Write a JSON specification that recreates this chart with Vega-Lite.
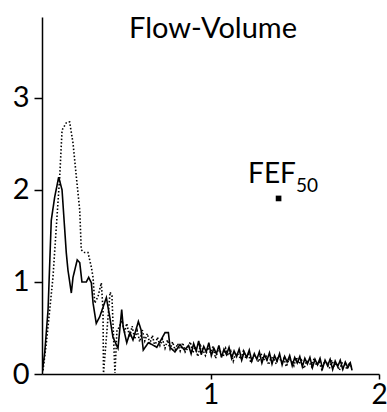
{
  "$schema": "https://vega.github.io/schema/vega-lite/v6.json",
  "width": 337,
  "height": 357,
  "autosize": {"type": "none"},
  "padding": {"left": 42, "top": 17, "right": 8, "bottom": 38},
  "background": "white",
  "config": {
    "view": {"stroke": null},
    "font": "Lato",
    "axis": {"grid": false, "domainColor": "black", "tickColor": "black", "labelColor": "black", "labelFont": "Lato", "domainWidth": 1.5, "tickWidth": 1.5}
  },
  "datasets": {
    "curves": [
      {"s": "solid", "x": 0.0, "y": 0.0},
      {"s": "solid", "x": 0.016, "y": 0.23},
      {"s": "solid", "x": 0.036, "y": 0.70},
      {"s": "solid", "x": 0.055, "y": 1.67},
      {"s": "solid", "x": 0.075, "y": 1.92},
      {"s": "solid", "x": 0.099, "y": 2.14},
      {"s": "solid", "x": 0.119, "y": 2.0},
      {"s": "solid", "x": 0.144, "y": 1.32},
      {"s": "solid", "x": 0.154, "y": 1.13},
      {"s": "solid", "x": 0.174, "y": 0.88},
      {"s": "solid", "x": 0.184, "y": 1.05},
      {"s": "solid", "x": 0.209, "y": 1.24},
      {"s": "solid", "x": 0.224, "y": 1.21},
      {"s": "solid", "x": 0.237, "y": 1.0},
      {"s": "solid", "x": 0.263, "y": 1.0},
      {"s": "solid", "x": 0.277, "y": 1.05},
      {"s": "solid", "x": 0.293, "y": 0.99},
      {"s": "solid", "x": 0.303, "y": 0.77},
      {"s": "solid", "x": 0.322, "y": 0.55},
      {"s": "solid", "x": 0.342, "y": 0.62},
      {"s": "solid", "x": 0.382, "y": 0.83},
      {"s": "solid", "x": 0.402, "y": 0.62},
      {"s": "solid", "x": 0.421, "y": 0.40},
      {"s": "solid", "x": 0.451, "y": 0.28},
      {"s": "solid", "x": 0.473, "y": 0.70},
      {"s": "solid", "x": 0.482, "y": 0.51},
      {"s": "solid", "x": 0.503, "y": 0.34},
      {"s": "solid", "x": 0.522, "y": 0.45},
      {"s": "solid", "x": 0.54, "y": 0.37},
      {"s": "solid", "x": 0.572, "y": 0.57},
      {"s": "solid", "x": 0.588, "y": 0.48},
      {"s": "solid", "x": 0.601, "y": 0.26},
      {"s": "solid", "x": 0.631, "y": 0.34},
      {"s": "solid", "x": 0.653, "y": 0.32},
      {"s": "solid", "x": 0.681, "y": 0.29},
      {"s": "solid", "x": 0.70, "y": 0.35},
      {"s": "solid", "x": 0.730, "y": 0.45},
      {"s": "solid", "x": 0.750, "y": 0.45},
      {"s": "solid", "x": 0.760, "y": 0.29},
      {"s": "solid", "x": 0.789, "y": 0.24},
      {"s": "solid", "x": 0.819, "y": 0.32},
      {"s": "solid", "x": 0.845, "y": 0.26},
      {"s": "solid", "x": 0.87, "y": 0.31},
      {"s": "solid", "x": 0.885, "y": 0.22},
      {"s": "solid", "x": 0.90, "y": 0.33},
      {"s": "solid", "x": 0.915, "y": 0.25},
      {"s": "solid", "x": 0.93, "y": 0.36},
      {"s": "solid", "x": 0.945, "y": 0.21},
      {"s": "solid", "x": 0.96, "y": 0.30},
      {"s": "solid", "x": 0.975, "y": 0.24},
      {"s": "solid", "x": 0.99, "y": 0.34},
      {"s": "solid", "x": 1.005, "y": 0.20},
      {"s": "solid", "x": 1.02, "y": 0.28},
      {"s": "solid", "x": 1.035, "y": 0.22},
      {"s": "solid", "x": 1.05, "y": 0.31},
      {"s": "solid", "x": 1.065, "y": 0.18},
      {"s": "solid", "x": 1.08, "y": 0.27},
      {"s": "solid", "x": 1.095, "y": 0.21},
      {"s": "solid", "x": 1.11, "y": 0.29},
      {"s": "solid", "x": 1.125, "y": 0.17},
      {"s": "solid", "x": 1.14, "y": 0.25},
      {"s": "solid", "x": 1.155, "y": 0.19},
      {"s": "solid", "x": 1.17, "y": 0.27},
      {"s": "solid", "x": 1.185, "y": 0.15},
      {"s": "solid", "x": 1.20, "y": 0.24},
      {"s": "solid", "x": 1.215, "y": 0.18},
      {"s": "solid", "x": 1.23, "y": 0.26},
      {"s": "solid", "x": 1.245, "y": 0.14},
      {"s": "solid", "x": 1.26, "y": 0.22},
      {"s": "solid", "x": 1.275, "y": 0.16},
      {"s": "solid", "x": 1.29, "y": 0.24},
      {"s": "solid", "x": 1.305, "y": 0.12},
      {"s": "solid", "x": 1.32, "y": 0.21},
      {"s": "solid", "x": 1.335, "y": 0.15},
      {"s": "solid", "x": 1.35, "y": 0.23},
      {"s": "solid", "x": 1.365, "y": 0.11},
      {"s": "solid", "x": 1.38, "y": 0.20},
      {"s": "solid", "x": 1.395, "y": 0.14},
      {"s": "solid", "x": 1.41, "y": 0.22},
      {"s": "solid", "x": 1.425, "y": 0.10},
      {"s": "solid", "x": 1.44, "y": 0.19},
      {"s": "solid", "x": 1.455, "y": 0.13},
      {"s": "solid", "x": 1.47, "y": 0.20},
      {"s": "solid", "x": 1.485, "y": 0.09},
      {"s": "solid", "x": 1.50, "y": 0.18},
      {"s": "solid", "x": 1.515, "y": 0.12},
      {"s": "solid", "x": 1.53, "y": 0.19},
      {"s": "solid", "x": 1.545, "y": 0.08},
      {"s": "solid", "x": 1.56, "y": 0.17},
      {"s": "solid", "x": 1.575, "y": 0.11},
      {"s": "solid", "x": 1.59, "y": 0.18},
      {"s": "solid", "x": 1.605, "y": 0.07},
      {"s": "solid", "x": 1.62, "y": 0.16},
      {"s": "solid", "x": 1.635, "y": 0.10},
      {"s": "solid", "x": 1.65, "y": 0.17},
      {"s": "solid", "x": 1.665, "y": 0.06},
      {"s": "solid", "x": 1.68, "y": 0.15},
      {"s": "solid", "x": 1.695, "y": 0.09},
      {"s": "solid", "x": 1.71, "y": 0.16},
      {"s": "solid", "x": 1.725, "y": 0.05},
      {"s": "solid", "x": 1.74, "y": 0.14},
      {"s": "solid", "x": 1.755, "y": 0.08},
      {"s": "solid", "x": 1.77, "y": 0.15},
      {"s": "solid", "x": 1.785, "y": 0.05},
      {"s": "solid", "x": 1.80, "y": 0.13},
      {"s": "solid", "x": 1.815, "y": 0.07},
      {"s": "solid", "x": 1.83, "y": 0.12},
      {"s": "solid", "x": 1.84, "y": 0.04},
      {"s": "dotted", "x": 0.006, "y": 0.04},
      {"s": "dotted", "x": 0.026, "y": 0.34},
      {"s": "dotted", "x": 0.046, "y": 0.70},
      {"s": "dotted", "x": 0.065, "y": 1.05},
      {"s": "dotted", "x": 0.085, "y": 1.60},
      {"s": "dotted", "x": 0.105, "y": 2.14},
      {"s": "dotted", "x": 0.119, "y": 2.65},
      {"s": "dotted", "x": 0.144, "y": 2.73},
      {"s": "dotted", "x": 0.164, "y": 2.74},
      {"s": "dotted", "x": 0.184, "y": 2.51},
      {"s": "dotted", "x": 0.204, "y": 2.14},
      {"s": "dotted", "x": 0.224, "y": 1.78},
      {"s": "dotted", "x": 0.233, "y": 1.35},
      {"s": "dotted", "x": 0.253, "y": 1.32},
      {"s": "dotted", "x": 0.273, "y": 1.32},
      {"s": "dotted", "x": 0.293, "y": 1.16},
      {"s": "dotted", "x": 0.303, "y": 1.05},
      {"s": "dotted", "x": 0.313, "y": 0.77},
      {"s": "dotted", "x": 0.332, "y": 0.84},
      {"s": "dotted", "x": 0.352, "y": 0.99},
      {"s": "dotted", "x": 0.362, "y": 0.70},
      {"s": "dotted", "x": 0.365, "y": 0.01},
      {"s": "dotted", "x": 0.404, "y": 0.89},
      {"s": "dotted", "x": 0.415, "y": 0.85},
      {"s": "dotted", "x": 0.433, "y": 0.01},
      {"s": "dotted", "x": 0.445, "y": 0.48},
      {"s": "dotted", "x": 0.455, "y": 0.50},
      {"s": "dotted", "x": 0.475, "y": 0.58},
      {"s": "dotted", "x": 0.49, "y": 0.45},
      {"s": "dotted", "x": 0.503, "y": 0.55},
      {"s": "dotted", "x": 0.52, "y": 0.40},
      {"s": "dotted", "x": 0.535, "y": 0.52},
      {"s": "dotted", "x": 0.55, "y": 0.38},
      {"s": "dotted", "x": 0.565, "y": 0.47},
      {"s": "dotted", "x": 0.58, "y": 0.35},
      {"s": "dotted", "x": 0.595, "y": 0.48},
      {"s": "dotted", "x": 0.61, "y": 0.36},
      {"s": "dotted", "x": 0.625, "y": 0.44},
      {"s": "dotted", "x": 0.64, "y": 0.33},
      {"s": "dotted", "x": 0.655, "y": 0.42},
      {"s": "dotted", "x": 0.67, "y": 0.30},
      {"s": "dotted", "x": 0.685, "y": 0.40},
      {"s": "dotted", "x": 0.70, "y": 0.31},
      {"s": "dotted", "x": 0.715, "y": 0.38},
      {"s": "dotted", "x": 0.73, "y": 0.28},
      {"s": "dotted", "x": 0.745, "y": 0.37},
      {"s": "dotted", "x": 0.76, "y": 0.27},
      {"s": "dotted", "x": 0.775, "y": 0.35},
      {"s": "dotted", "x": 0.79, "y": 0.26},
      {"s": "dotted", "x": 0.805, "y": 0.33},
      {"s": "dotted", "x": 0.82, "y": 0.25},
      {"s": "dotted", "x": 0.835, "y": 0.34},
      {"s": "dotted", "x": 0.85, "y": 0.24},
      {"s": "dotted", "x": 0.865, "y": 0.28},
      {"s": "dotted", "x": 0.88, "y": 0.35},
      {"s": "dotted", "x": 0.895, "y": 0.23},
      {"s": "dotted", "x": 0.91, "y": 0.30},
      {"s": "dotted", "x": 0.925, "y": 0.19},
      {"s": "dotted", "x": 0.94, "y": 0.31},
      {"s": "dotted", "x": 0.955, "y": 0.26},
      {"s": "dotted", "x": 0.97, "y": 0.20},
      {"s": "dotted", "x": 0.985, "y": 0.29},
      {"s": "dotted", "x": 1.00, "y": 0.23},
      {"s": "dotted", "x": 1.015, "y": 0.30},
      {"s": "dotted", "x": 1.03, "y": 0.17},
      {"s": "dotted", "x": 1.045, "y": 0.26},
      {"s": "dotted", "x": 1.06, "y": 0.24},
      {"s": "dotted", "x": 1.075, "y": 0.19},
      {"s": "dotted", "x": 1.09, "y": 0.28},
      {"s": "dotted", "x": 1.105, "y": 0.20},
      {"s": "dotted", "x": 1.12, "y": 0.25},
      {"s": "dotted", "x": 1.135, "y": 0.14},
      {"s": "dotted", "x": 1.15, "y": 0.23},
      {"s": "dotted", "x": 1.165, "y": 0.21},
      {"s": "dotted", "x": 1.18, "y": 0.16},
      {"s": "dotted", "x": 1.195, "y": 0.25},
      {"s": "dotted", "x": 1.21, "y": 0.17},
      {"s": "dotted", "x": 1.225, "y": 0.22},
      {"s": "dotted", "x": 1.24, "y": 0.12},
      {"s": "dotted", "x": 1.255, "y": 0.20},
      {"s": "dotted", "x": 1.27, "y": 0.19},
      {"s": "dotted", "x": 1.285, "y": 0.13},
      {"s": "dotted", "x": 1.30, "y": 0.22},
      {"s": "dotted", "x": 1.315, "y": 0.15},
      {"s": "dotted", "x": 1.33, "y": 0.19},
      {"s": "dotted", "x": 1.345, "y": 0.10},
      {"s": "dotted", "x": 1.36, "y": 0.18},
      {"s": "dotted", "x": 1.375, "y": 0.17},
      {"s": "dotted", "x": 1.39, "y": 0.11},
      {"s": "dotted", "x": 1.405, "y": 0.20},
      {"s": "dotted", "x": 1.42, "y": 0.13},
      {"s": "dotted", "x": 1.435, "y": 0.17},
      {"s": "dotted", "x": 1.45, "y": 0.08},
      {"s": "dotted", "x": 1.465, "y": 0.16},
      {"s": "dotted", "x": 1.48, "y": 0.15},
      {"s": "dotted", "x": 1.495, "y": 0.09},
      {"s": "dotted", "x": 1.51, "y": 0.18},
      {"s": "dotted", "x": 1.525, "y": 0.11},
      {"s": "dotted", "x": 1.54, "y": 0.15},
      {"s": "dotted", "x": 1.555, "y": 0.06},
      {"s": "dotted", "x": 1.57, "y": 0.14},
      {"s": "dotted", "x": 1.585, "y": 0.13},
      {"s": "dotted", "x": 1.60, "y": 0.08},
      {"s": "dotted", "x": 1.615, "y": 0.17},
      {"s": "dotted", "x": 1.63, "y": 0.09},
      {"s": "dotted", "x": 1.645, "y": 0.13},
      {"s": "dotted", "x": 1.66, "y": 0.05},
      {"s": "dotted", "x": 1.675, "y": 0.13},
      {"s": "dotted", "x": 1.69, "y": 0.12},
      {"s": "dotted", "x": 1.705, "y": 0.06},
      {"s": "dotted", "x": 1.72, "y": 0.15},
      {"s": "dotted", "x": 1.735, "y": 0.08},
      {"s": "dotted", "x": 1.75, "y": 0.12},
      {"s": "dotted", "x": 1.765, "y": 0.04},
      {"s": "dotted", "x": 1.78, "y": 0.12},
      {"s": "dotted", "x": 1.795, "y": 0.11},
      {"s": "dotted", "x": 1.81, "y": 0.05},
      {"s": "dotted", "x": 1.825, "y": 0.13},
      {"s": "dotted", "x": 1.84, "y": 0.06}
    ],
    "titles": [{"label": "Flow-Volume", "x": 1.015, "y": 3.652}],
    "fef": [{"label": "FEF", "x": 1.223, "y": 2.076}],
    "sub": [{"label": "50", "x": 1.507, "y": 1.978}],
    "marker": [{"x": 1.404, "y": 1.908}]
  },
  "layer": [
    {
      "data": {"name": "curves"},
      "mark": {"type": "line", "color": "black", "strokeWidth": 1.6, "clip": true},
      "encoding": {
        "x": {"field": "x", "type": "quantitative", "scale": {"domain": [0, 2], "nice": false},
          "axis": {"values": [1, 2], "format": "d", "title": null, "tickSize": 5, "labelPadding": 2, "labelFontSize": 28, "labelFlush": false}},
        "y": {"field": "y", "type": "quantitative", "scale": {"domain": [0, 3.88], "nice": false},
          "axis": {"values": [0, 1, 2, 3], "format": "d", "title": null, "tickSize": 8, "labelPadding": 5, "labelFontSize": 29}},
        "strokeDash": {"field": "s", "type": "nominal", "scale": {"domain": ["solid", "dotted"], "range": [[1, 0], [1.5, 2]]}, "legend": null}
      }
    },
    {
      "data": {"name": "titles"},
      "mark": {"type": "text", "fontSize": 29, "align": "center", "baseline": "alphabetic", "color": "black"},
      "encoding": {"x": {"field": "x", "type": "quantitative"}, "y": {"field": "y", "type": "quantitative"}, "text": {"field": "label"}}
    },
    {
      "data": {"name": "fef"},
      "mark": {"type": "text", "fontSize": 28, "align": "left", "baseline": "alphabetic", "color": "black"},
      "encoding": {"x": {"field": "x", "type": "quantitative"}, "y": {"field": "y", "type": "quantitative"}, "text": {"field": "label"}}
    },
    {
      "data": {"name": "sub"},
      "mark": {"type": "text", "fontSize": 19, "align": "left", "baseline": "alphabetic", "color": "black"},
      "encoding": {"x": {"field": "x", "type": "quantitative"}, "y": {"field": "y", "type": "quantitative"}, "text": {"field": "label"}}
    },
    {
      "data": {"name": "marker"},
      "mark": {"type": "point", "shape": "square", "filled": true, "color": "black", "size": 32, "opacity": 1},
      "encoding": {"x": {"field": "x", "type": "quantitative"}, "y": {"field": "y", "type": "quantitative"}}
    }
  ]
}
